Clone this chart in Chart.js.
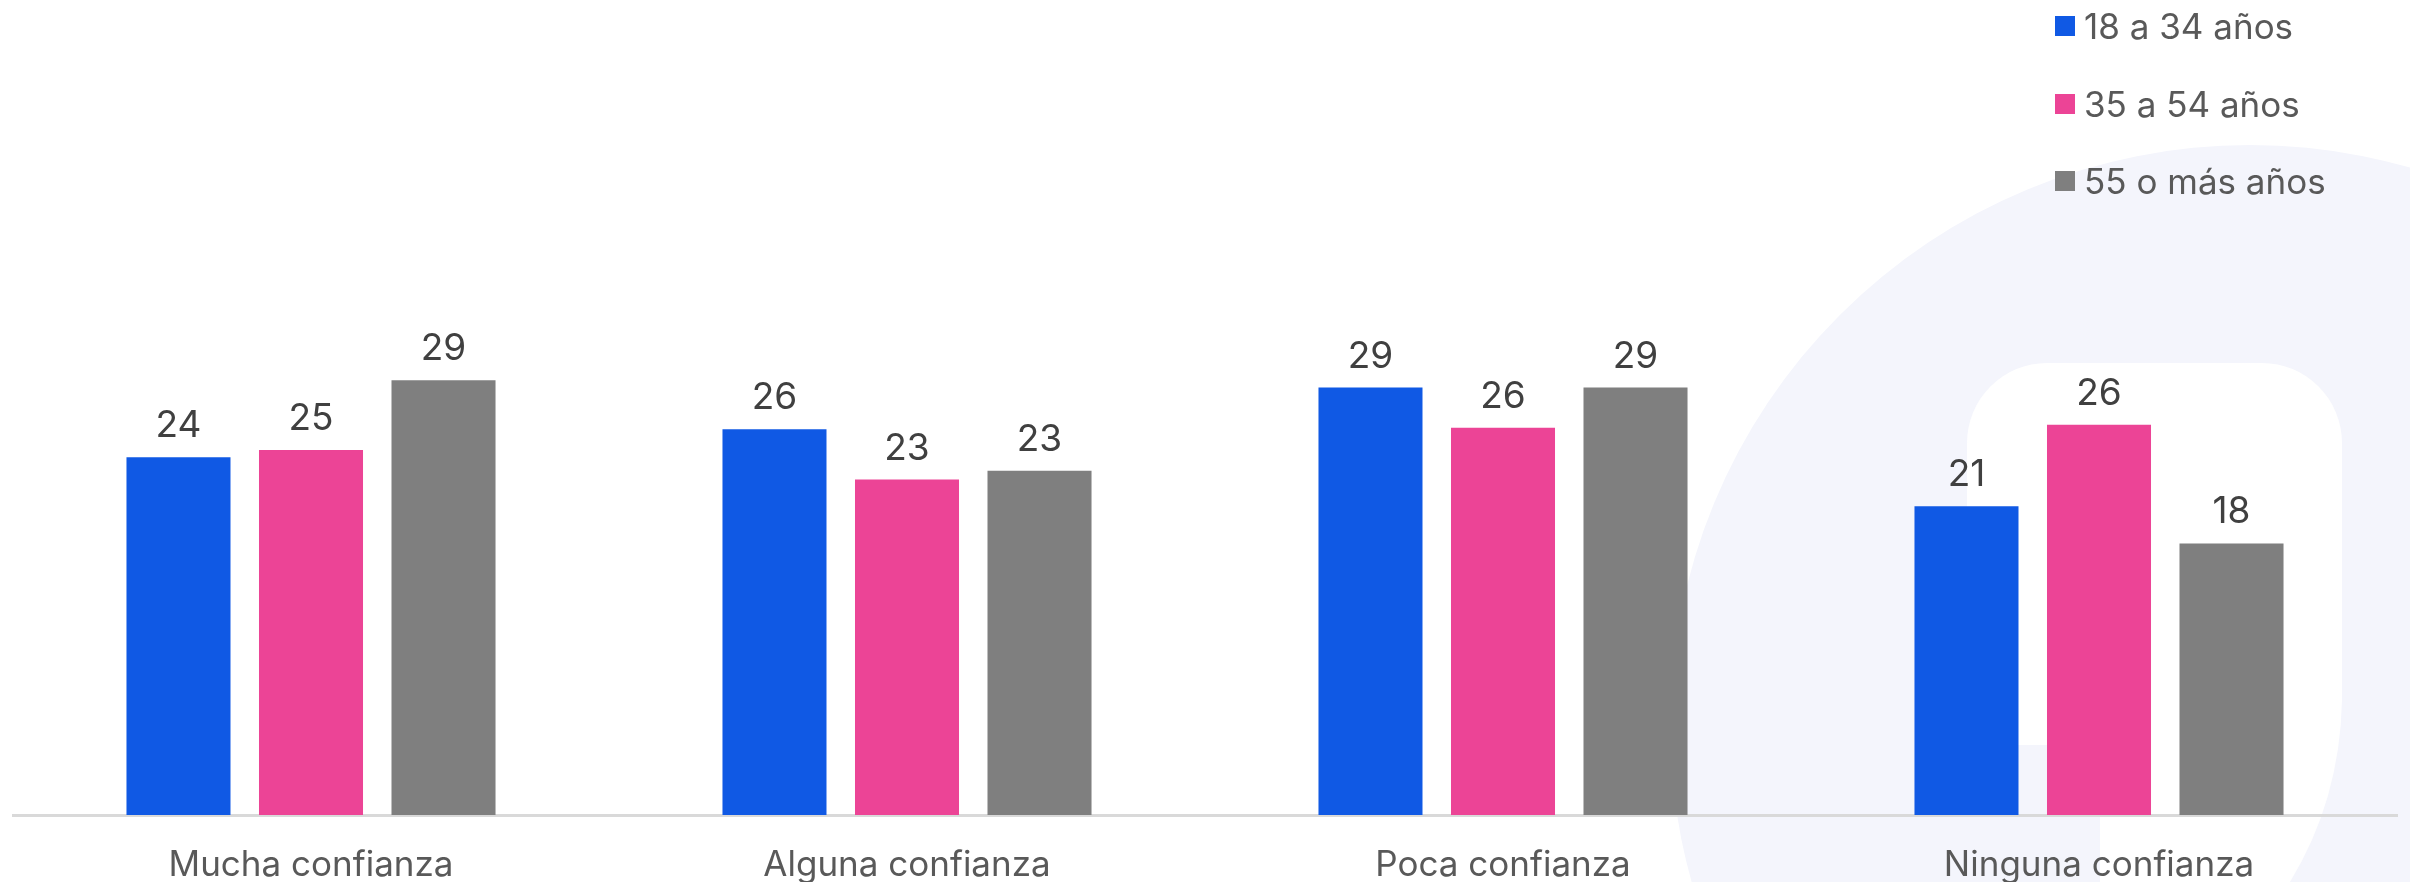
<!DOCTYPE html>
<html>
<head>
<meta charset="utf-8">
<script src="https://cdn.jsdelivr.net/npm/chart.js@4.4.1/dist/chart.umd.min.js"></script>
<style>
  html, body { margin: 0; padding: 0; background: #fff; }
  #wrap { position: relative; width: 2410px; height: 882px; }
  #legend { position: absolute; left: 2055px; top: 0; font-family: Inter, sans-serif; font-size: 35px; color: #595959; }
  .item { position: absolute; left: 0; display: flex; align-items: center; white-space: nowrap; height: 40px; }
  .box { width: 20px; height: 20px; margin-right: 9px; }
</style>
</head>
<body>
<div id="wrap">
  <canvas id="myChart"></canvas>
  <div id="legend"></div>
</div>
<script>
const categories = ['Mucha confianza', 'Alguna confianza', 'Poca confianza', 'Ninguna confianza'];
const seriesNames = ['18 a 34 años', '35 a 54 años', '55 o más años'];
const joven = [24.1, 26.0, 28.8, 20.8];
const adulto = [24.6, 22.6, 26.1, 26.3];
const mayor = [29.3, 23.2, 28.8, 18.3];
const seriesColors = ['#1059e4', '#ec4496', '#7f7f7f'];

// faint logo shape behind the plot
const watermark = {
    id: 'watermark',
    beforeDraw(chart) {
        const ctx = chart.ctx;
        ctx.save();
        ctx.fillStyle = '#ffffff';
        ctx.fillRect(0, 0, chart.width, chart.height);
        ctx.fillStyle = '#f4f5fc';
        ctx.beginPath();
        ctx.arc(2250, 725, 580, 0, Math.PI * 2);
        ctx.fill();
        ctx.fillStyle = '#ffffff';
        ctx.beginPath();
        ctx.moveTo(1967, 705);
        ctx.arcTo(1967, 363, 2047, 363, 80);
        ctx.arcTo(2342, 363, 2342, 443, 80);
        ctx.lineTo(2342, 700);
        ctx.quadraticCurveTo(2340, 800, 2290, 882);
        ctx.lineTo(2100, 882);
        ctx.lineTo(2100, 745);
        ctx.arcTo(1967, 745, 1967, 705, 40);
        ctx.closePath();
        ctx.fill();
        ctx.restore();
    }
};

// rounded value above each bar
const valueLabels = {
    id: 'valueLabels',
    afterDatasetsDraw(chart) {
        const ctx = chart.ctx;
        ctx.save();
        ctx.font = '37px Inter';
        ctx.fillStyle = '#404040';
        ctx.textAlign = 'center';
        ctx.textBaseline = 'alphabetic';
        chart.data.datasets.forEach((ds, i) => {
            chart.getDatasetMeta(i).data.forEach((bar, j) => {
                ctx.fillText(Math.round(ds.data[j]), bar.x, bar.y - 20);
            });
        });
        ctx.restore();
    }
};

const seriesData = [joven, adulto, mayor];
const datasets = seriesNames.map((name, i) => ({
    label: name,
    data: seriesData[i],
    backgroundColor: seriesColors[i],
    borderWidth: 0,
    categoryPercentage: 0.667,
    barPercentage: 0.785
}));

const ctx = document.getElementById('myChart').getContext('2d');
const chart = new Chart(ctx, {
    type: 'bar',
    data: { labels: categories, datasets },
    options: {
        responsive: true,
        maintainAspectRatio: false,
        animation: false,
        layout: { padding: { top: 73, left: 13, right: 13, bottom: 0 } },
        plugins: { legend: { display: false }, tooltip: { enabled: false } },
        scales: {
            x: {
                grid: { display: false },
                border: { display: true, color: '#d9d9d9', width: 3 },
                ticks: { color: '#595959', font: { family: 'Inter', size: 35 }, padding: 21, maxRotation: 0, autoSkip: false },
                afterFit: s => { s.height = 67; }
            },
            y: { display: false, min: 0, max: 50 }
        }
    },
    plugins: [watermark, valueLabels]
});

// legend built from the same series
const legend = document.getElementById('legend');
const rowTops = [6, 84, 161];
seriesNames.forEach((name, i) => {
    const item = document.createElement('div');
    item.className = 'item';
    item.style.top = rowTops[i] + 'px';
    item.innerHTML = `<span class="box" style="background:${seriesColors[i]}"></span><span>${name}</span>`;
    legend.appendChild(item);
});
</script>
</body>
</html>
